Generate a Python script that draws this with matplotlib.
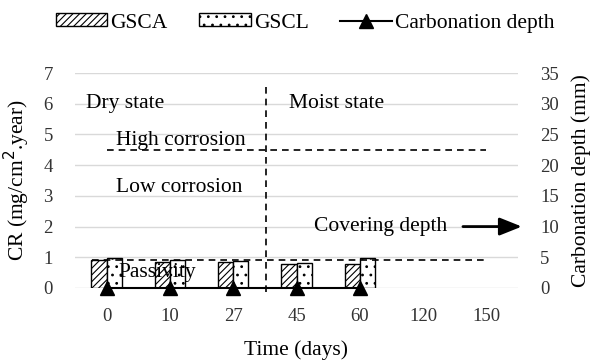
import numpy as np
import matplotlib
matplotlib.use("Agg")
import matplotlib.pyplot as plt

plt.rcParams['font.family'] = ['Liberation Serif', 'DejaVu Serif']
plt.rcParams['hatch.linewidth'] = 0.8

days = ['0', '10', '27', '45', '60', '120', '150']
gsca = [0.90, 0.84, 0.84, 0.78, 0.78]
gscl = [0.97, 0.91, 0.87, 0.83, 0.97]
carb_depth = [0, 0, 0, 0, 0]

high_corr = 4.5
passivity = 0.92
cover_depth = 10

x = np.arange(len(days))
n = len(gsca)
w = 0.24

fig = plt.figure(figsize=(6.06, 3.63), dpi=100)
ax = fig.add_axes([75/606, 1-288/363, 443/606, 215/363])
ax2 = ax.twinx()

ax.set_xlim(-0.5, len(days) - 0.5)
ax.set_ylim(0, 7)
ax.set_yticks(range(0, 8))
ax.grid(axis='y', color='#d9d9d9', lw=1)
ax.set_axisbelow(True)

ax.bar(x[:n] - w/2, gsca, w, color='white', edgecolor='black', hatch='/////', lw=1, label='GSCA', zorder=3)
ax.bar(x[:n] + w/2, gscl, w, color='white', edgecolor='black', hatch='..', lw=1, label='GSCL', zorder=3)

# threshold lines and state divider
dash = (0, (4, 3))
ax.plot([0, 6], [high_corr, high_corr], ls=dash, color='black', lw=1.2, zorder=4)
ax.plot([-0.23, 6], [passivity, passivity], ls=dash, color='black', lw=1.2, zorder=4)
ax.plot([2.52, 2.52], [-0.13, 6.67], ls=dash, color='black', lw=1.2, zorder=4, clip_on=False)

ax2.set_ylim(0, 35)
ax2.set_yticks(range(0, 36, 5))
ax2.plot(x[:n], carb_depth, color='black', lw=1.5, marker='^', ms=10, label='Carbonation depth', zorder=5, clip_on=False)

tfs = 13.5
for a in (ax, ax2):
    for s in a.spines.values():
        s.set_visible(False)
    a.tick_params(length=0, labelsize=tfs, labelcolor='#333333')
ax.tick_params(axis='y', pad=16)
ax2.tick_params(axis='y', pad=16)
ax.tick_params(axis='x', pad=14.5)
ax.set_xticks(x)
ax.set_xticklabels(days)

lfs = 15.5
ax.set_xlabel('Time (days)', fontsize=lfs, labelpad=11)
ax.set_ylabel('CR (mg/cm$^2$.year)', fontsize=lfs, labelpad=8)
ax2.set_ylabel('Carbonation depth (mm)', fontsize=lfs, labelpad=9)

fs = 15.5
ax.text(-0.33, 6.0, 'Dry state', fontsize=fs, va='center')
ax.text(2.88, 6.0, 'Moist state', fontsize=fs, va='center')
ax.text(0.15, 4.79, 'High corrosion', fontsize=fs, va='center')
ax.text(0.15, 3.27, 'Low corrosion', fontsize=fs, va='center')
ax.text(0.18, 0.49, 'Passivity', fontsize=fs, va='center', zorder=6)
ax2.text(5.38, cover_depth, 'Covering depth', fontsize=fs, va='center', ha='right')
ax2.annotate('', xy=(6.56, cover_depth), xytext=(5.63, cover_depth), annotation_clip=False,
             arrowprops=dict(arrowstyle='-|>,head_length=0.75,head_width=0.3', color='black',
                             lw=2, mutation_scale=18, shrinkA=0, shrinkB=0))

h1, l1 = ax.get_legend_handles_labels()
h2, l2 = ax2.get_legend_handles_labels()
fig.legend(h1 + h2, l1 + l2, loc='center', bbox_to_anchor=(305/606, 1-23/363), ncol=3,
           frameon=False, fontsize=15.5, handlelength=2.4, handleheight=0.55,
           handletextpad=0.15, columnspacing=1.45)

fig.savefig('out.png', dpi=100)
